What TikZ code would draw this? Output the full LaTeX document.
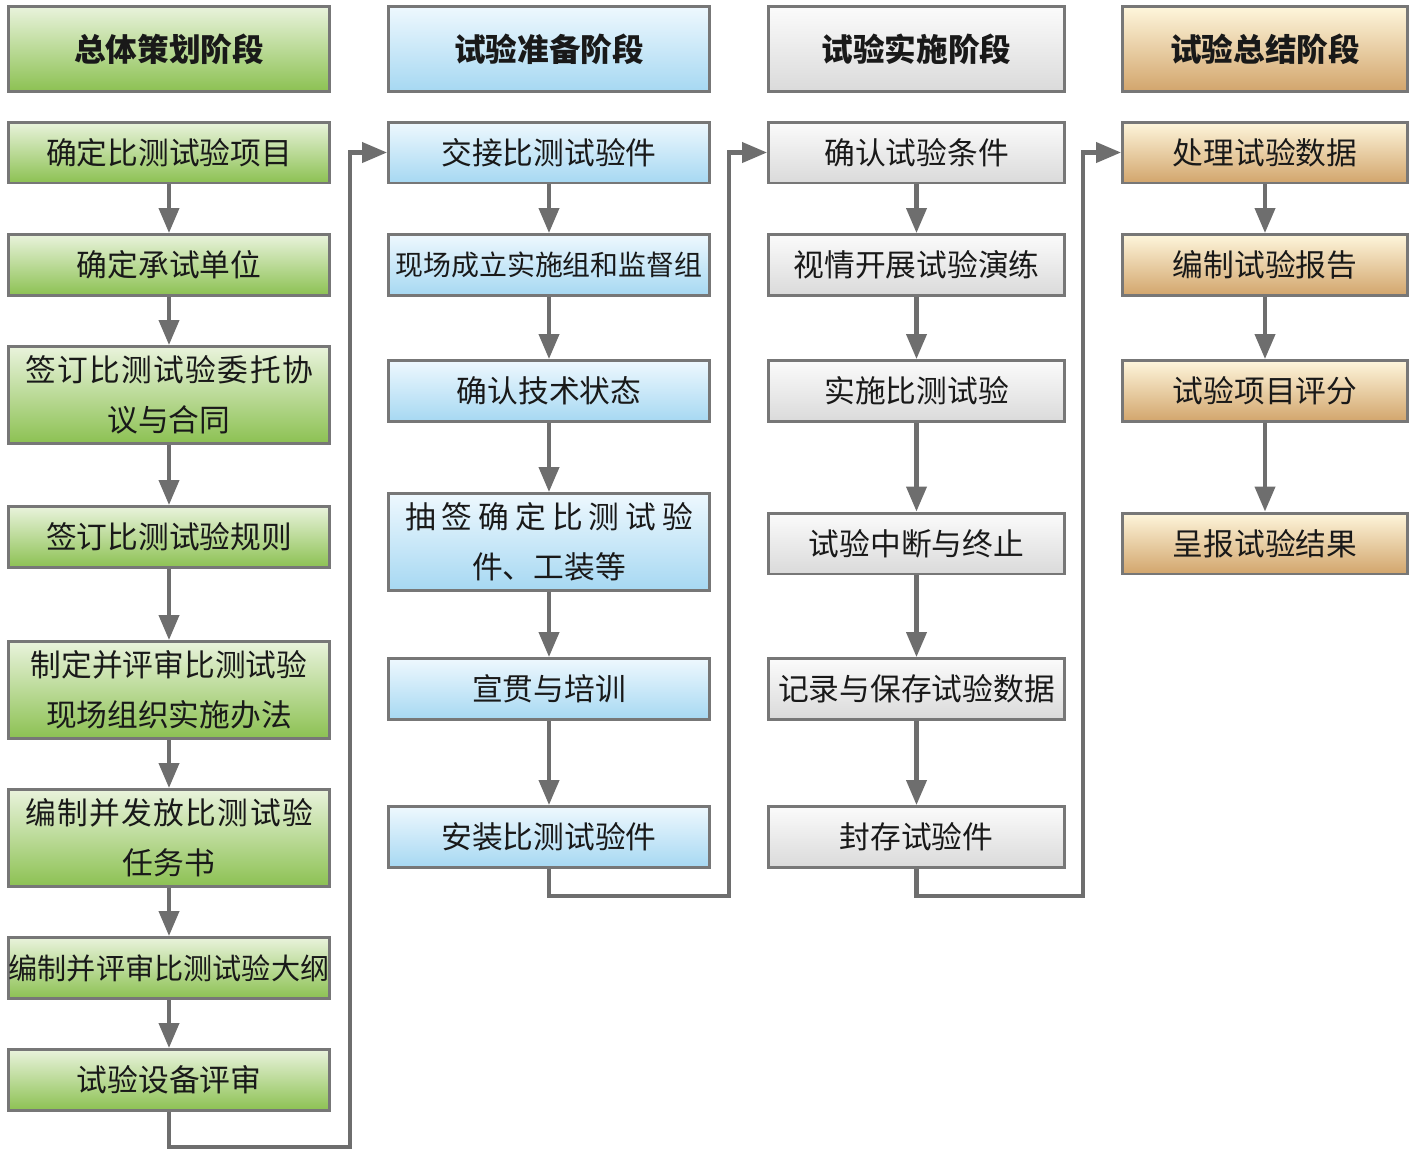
\documentclass[tikz,border=0pt]{standalone}
\usepackage{fontspec}
\setmainfont{Noto Sans CJK SC}
\usetikzlibrary{arrows.meta,shadings}
\definecolor{boxLine}{HTML}{777777}
\definecolor{arrLine}{HTML}{6E6E6E}
\definecolor{grTop}{HTML}{E9F3DC}
\definecolor{grBot}{HTML}{8CC152}
\definecolor{blTop}{HTML}{EEF8FE}
\definecolor{blBot}{HTML}{A6D8F2}
\definecolor{gyTop}{HTML}{FBFBFB}
\definecolor{gyBot}{HTML}{DADADA}
\definecolor{tnTop}{HTML}{FEF6DC}
\definecolor{tnBot}{HTML}{D2A56C}
\tikzset{
  box/.style={draw=boxLine, line width=1.7pt, align=center, inner sep=0pt,
    text=black!90, font=\fontsize{17.5}{28.5}\selectfont, minimum height=1.22cm},
  colA/.style={box, minimum width=6.42cm, top color=grTop, bottom color=grBot},
  colB/.style={box, minimum width=6.42cm, top color=blTop, bottom color=blBot},
  colC/.style={box, minimum width=5.92cm, top color=gyTop, bottom color=gyBot},
  colD/.style={box, minimum width=5.70cm, top color=tnTop, bottom color=tnBot},
  head/.style={minimum height=1.70cm, font=\fontsize{18}{21}\selectfont\bfseries},
  tall/.style={minimum height=1.94cm},
  arr/.style={draw=arrLine, line width=2.3pt, -{Triangle[length=0.5cm,width=0.4cm]}},
}
\newcommand{\wideline}[1]{\makebox[5.76cm][s]{#1}}
\begin{document}
\begin{tikzpicture}[x=0.02cm, y=-0.02cm]
\useasboundingbox (0,0) rectangle (1417,1160);
% headers
\node[colA, head] (hA) at (169,49) {总体策划阶段};
\node[colB, head] (hB) at (549,49) {试验准备阶段};
\node[colC, head] (hC) at (916.5,49) {试验实施阶段};
\node[colD, head] (hD) at (1265,49) {试验总结阶段};
% column 1
\node[colA] (a1) at (169,152.5) {确定比测试验项目};
\node[colA] (a2) at (169,265) {确定承试单位};
\node[colA, tall] (a3) at (169,395) {\wideline{签\hfill 订\hfill 比\hfill 测\hfill 试\hfill 验\hfill 委\hfill 托\hfill 协}\\议与合同};
\node[colA] (a4) at (169,537) {签订比测试验规则};
\node[colA, tall] (a5) at (169,690) {制定并评审比测试验\\现场组织实施办法};
\node[colA, tall] (a6) at (169,838) {\wideline{编\hfill 制\hfill 并\hfill 发\hfill 放\hfill 比\hfill 测\hfill 试\hfill 验}\\任务书};
\node[colA] (a7) at (169,968) {\fontsize{16.6}{20}\selectfont 编制并评审比测试验大纲};
\node[colA] (a8) at (169,1080) {试验设备评审};
% column 2
\node[colB] (b1) at (549,152.5) {交接比测试验件};
\node[colB] (b2) at (549,265) {\fontsize{15.9}{20}\selectfont 现场成立实施组和监督组};
\node[colB] (b3) at (549,391) {确认技术状态};
\node[colB, tall] (b4) at (549,542) {\wideline{抽\hfill 签\hfill 确\hfill 定\hfill 比\hfill 测\hfill 试\hfill 验}\\件、工装等};
\node[colB] (b5) at (549,689) {宣贯与培训};
\node[colB] (b6) at (549,837) {安装比测试验件};
% column 3
\node[colC] (c1) at (916.5,152.5) {确认试验条件};
\node[colC] (c2) at (916.5,265) {视情开展试验演练};
\node[colC] (c3) at (916.5,391) {实施比测试验};
\node[colC] (c4) at (916.5,543.5) {试验中断与终止};
\node[colC] (c5) at (916.5,689) {记录与保存试验数据};
\node[colC] (c6) at (916.5,837) {封存试验件};
% column 4
\node[colD] (d1) at (1265,152.5) {处理试验数据};
\node[colD] (d2) at (1265,265) {编制试验报告};
\node[colD] (d3) at (1265,391) {试验项目评分};
\node[colD] (d4) at (1265,543.5) {呈报试验结果};
% arrows
\foreach \c/\n in {a/8, b/6, c/6, d/4} {
  \foreach \i [evaluate=\i as \j using int(\i+1)] in {1,...,\n} {
    \ifnum\i<\n \draw[arr] (\c\i) -- (\c\j); \fi
  }
}
\coordinate (lpA) at (350,1147);
\coordinate (lpB) at (729,896);
\coordinate (lpC) at (1083,896);
\draw[arr] (a8.south) |- (lpA) |- (b1.west);
\draw[arr] (b6.south) |- (lpB) |- (c1.west);
\draw[arr] (c6.south) |- (lpC) |- (d1.west);
\end{tikzpicture}
\end{document}
